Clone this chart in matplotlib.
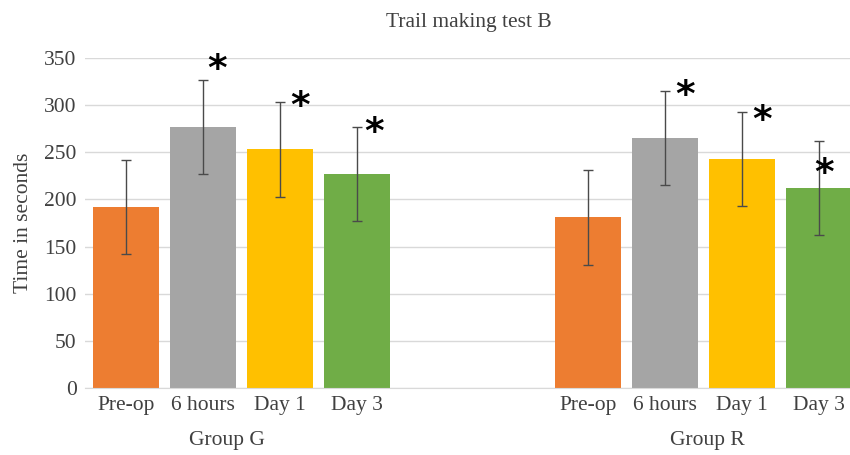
import matplotlib
matplotlib.use('Agg')
import matplotlib.pyplot as plt
import numpy as np

# data
groups = ['Group G', 'Group R']
timepoints = ['Pre-op', '6 hours', 'Day 1', 'Day 3']
group_g = [192, 277, 253, 227]
group_r = [181, 265, 243, 212]
err_g = [50, 50, 50, 50]
err_r = [50, 50, 50, 50]
# asterisk positions (x offset from bar centre, y in seconds); none on Pre-op
star_dx_g = [None, 0.19, 0.26, 0.23]
star_y_g = [None, 348, 308, 281]
star_dx_r = [None, 0.26, 0.26, 0.07]
star_y_r = [None, 320, 293, 237]

colors = ['#ED7D31', '#A5A5A5', '#FFC000', '#70AD47']
txt = '#404040'

plt.rcParams['font.family'] = ['Liberation Serif', 'DejaVu Serif']

fig = plt.figure(figsize=(8.5, 4.55), dpi=100)
ax = fig.add_axes([0.1, 0.147, 0.902, 0.7255])

x_g = np.arange(4)
x_r = np.arange(4) + 6
width = 0.857

for xs, vals, errs, dxs, sys in [(x_g, group_g, err_g, star_dx_g, star_y_g),
                                 (x_r, group_r, err_r, star_dx_r, star_y_r)]:
    ax.bar(xs, vals, width=width, color=colors, zorder=2)
    ax.errorbar(xs, vals, yerr=errs, fmt='none', ecolor='#4a4a4a',
                elinewidth=1, capsize=3.6, capthick=1, zorder=3)
    for x, dx, sy in zip(xs, dxs, sys):
        if dx is None:
            continue
        # DejaVu's asterisk sits high in its box, so nudge it down
        ax.annotate('*', (x + dx, sy), xytext=(0, -7), textcoords='offset points',
                    ha='center', va='center', fontsize=27, fontweight='bold',
                    color='black', family='DejaVu Sans', zorder=4)

ax.set_ylim(0, 350)
ax.set_xlim(-0.532, 9.43)
ax.set_yticks(range(0, 351, 50))
ax.yaxis.grid(True, color='#D9D9D9', linewidth=1)
ax.set_axisbelow(True)
for s in ['top', 'right', 'left']:
    ax.spines[s].set_visible(False)
ax.spines['bottom'].set_color('#D9D9D9')

ax.set_xticks(np.concatenate([x_g, x_r]))
ax.set_xticklabels(timepoints + timepoints)
ax.tick_params(axis='both', length=0, labelsize=15.5, colors=txt)
ax.tick_params(axis='x', pad=6)
ax.tick_params(axis='y', pad=6)

ax.set_ylabel('Time in seconds', fontsize=15.5, color=txt, labelpad=8)
ax.set_title('Trail making test B', fontsize=15.5, color=txt, pad=22)

# group labels under the tick labels
for gx, name in zip([1.31, 7.56], groups):
    ax.text(gx, -0.158, name, transform=ax.get_xaxis_transform(), fontsize=15.5,
            color=txt, ha='center', va='center')

fig.savefig('out.png', dpi=100)
